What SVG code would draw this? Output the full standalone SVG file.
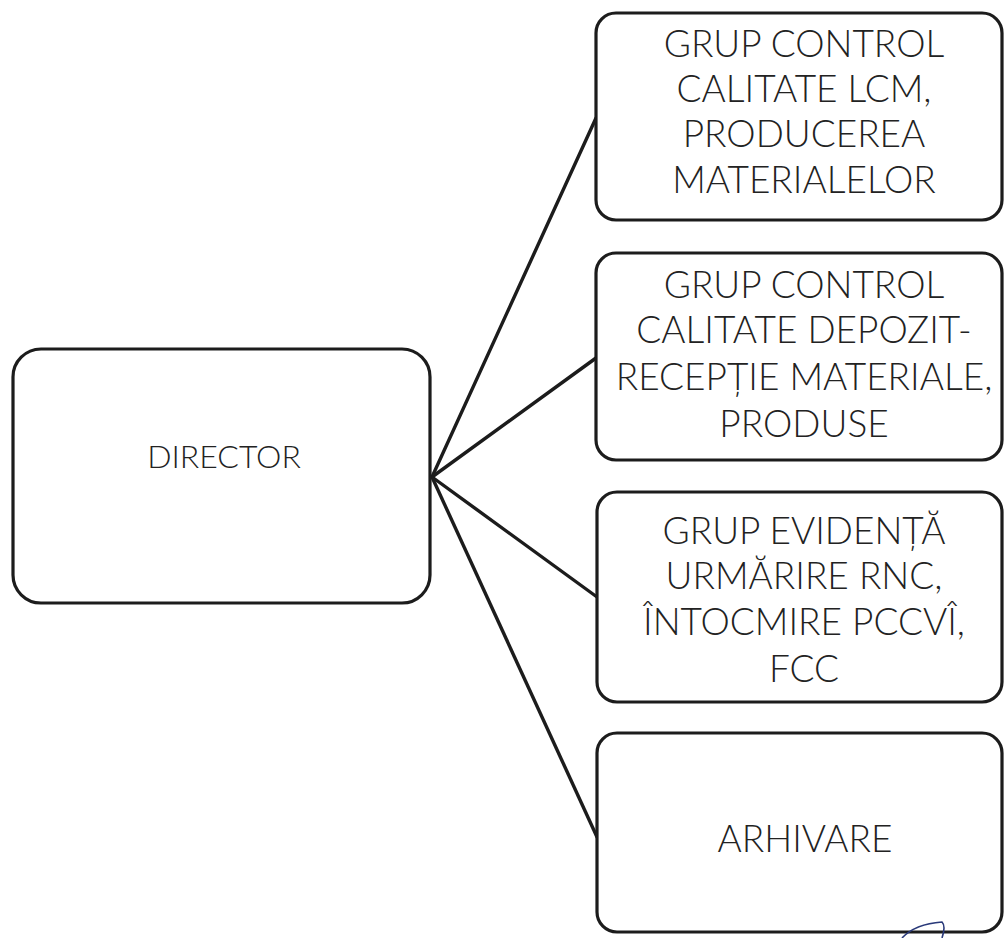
<svg xmlns="http://www.w3.org/2000/svg" width="1004" height="938" viewBox="0 0 1004 938">
<style>
.box{fill:#fff;stroke:#1c1c1c;stroke-width:3.2}
.lbl{font-family:Lato,"Open Sans","Liberation Sans",sans-serif;font-weight:300;font-size:37px;fill:#222;text-anchor:middle}
.dir{font-size:32px}
.con{stroke:#1c1c1c;stroke-width:3.4;fill:none;stroke-linecap:round}
</style>
<rect width="1004" height="938" fill="#fff"/>
<g id="connectors">
<line class="con" x1="432" y1="477" x2="596" y2="118"/>
<line class="con" x1="432" y1="477" x2="596" y2="358"/>
<line class="con" x1="432" y1="477" x2="597" y2="597"/>
<line class="con" x1="432" y1="477" x2="597" y2="837"/>
</g>
<g id="director">
<rect class="box" x="13" y="349" width="417" height="254" rx="28"/>
<text class="lbl dir" x="224" y="468">DIRECTOR</text>
</g>
<g id="grup-lcm">
<rect class="box" x="596" y="13" width="406" height="207" rx="20"/>
<text class="lbl" x="804" y="57">GRUP CONTROL</text>
<text class="lbl" x="804" y="102">CALITATE LCM,</text>
<text class="lbl" x="804" y="147">PRODUCEREA</text>
<text class="lbl" x="804" y="193">MATERIALELOR</text>
</g>
<g id="grup-depozit">
<rect class="box" x="596" y="253" width="406" height="207" rx="20"/>
<text class="lbl" x="804" y="298">GRUP CONTROL</text>
<text class="lbl" x="804" y="343">CALITATE DEPOZIT-</text>
<text class="lbl" x="804" y="390">RECEPȚIE MATERIALE,</text>
<text class="lbl" x="804" y="437">PRODUSE</text>
</g>
<g id="grup-evidenta">
<rect class="box" x="597" y="492" width="405" height="210" rx="20"/>
<text class="lbl" x="804" y="544">GRUP EVIDENȚĂ</text>
<text class="lbl" x="804" y="589">URMĂRIRE RNC,</text>
<text class="lbl" x="804" y="635">ÎNTOCMIRE PCCVÎ,</text>
<text class="lbl" x="804" y="682">FCC</text>
</g>
<g id="arhivare">
<rect class="box" x="597" y="733" width="405" height="199" rx="20"/>
<text class="lbl" x="805" y="852">ARHIVARE</text>
</g>
<path d="M902 938 Q915 924 942 922 Q946 926 942 938" fill="none" stroke="#2a3a7a" stroke-width="1.6"/>
</svg>
